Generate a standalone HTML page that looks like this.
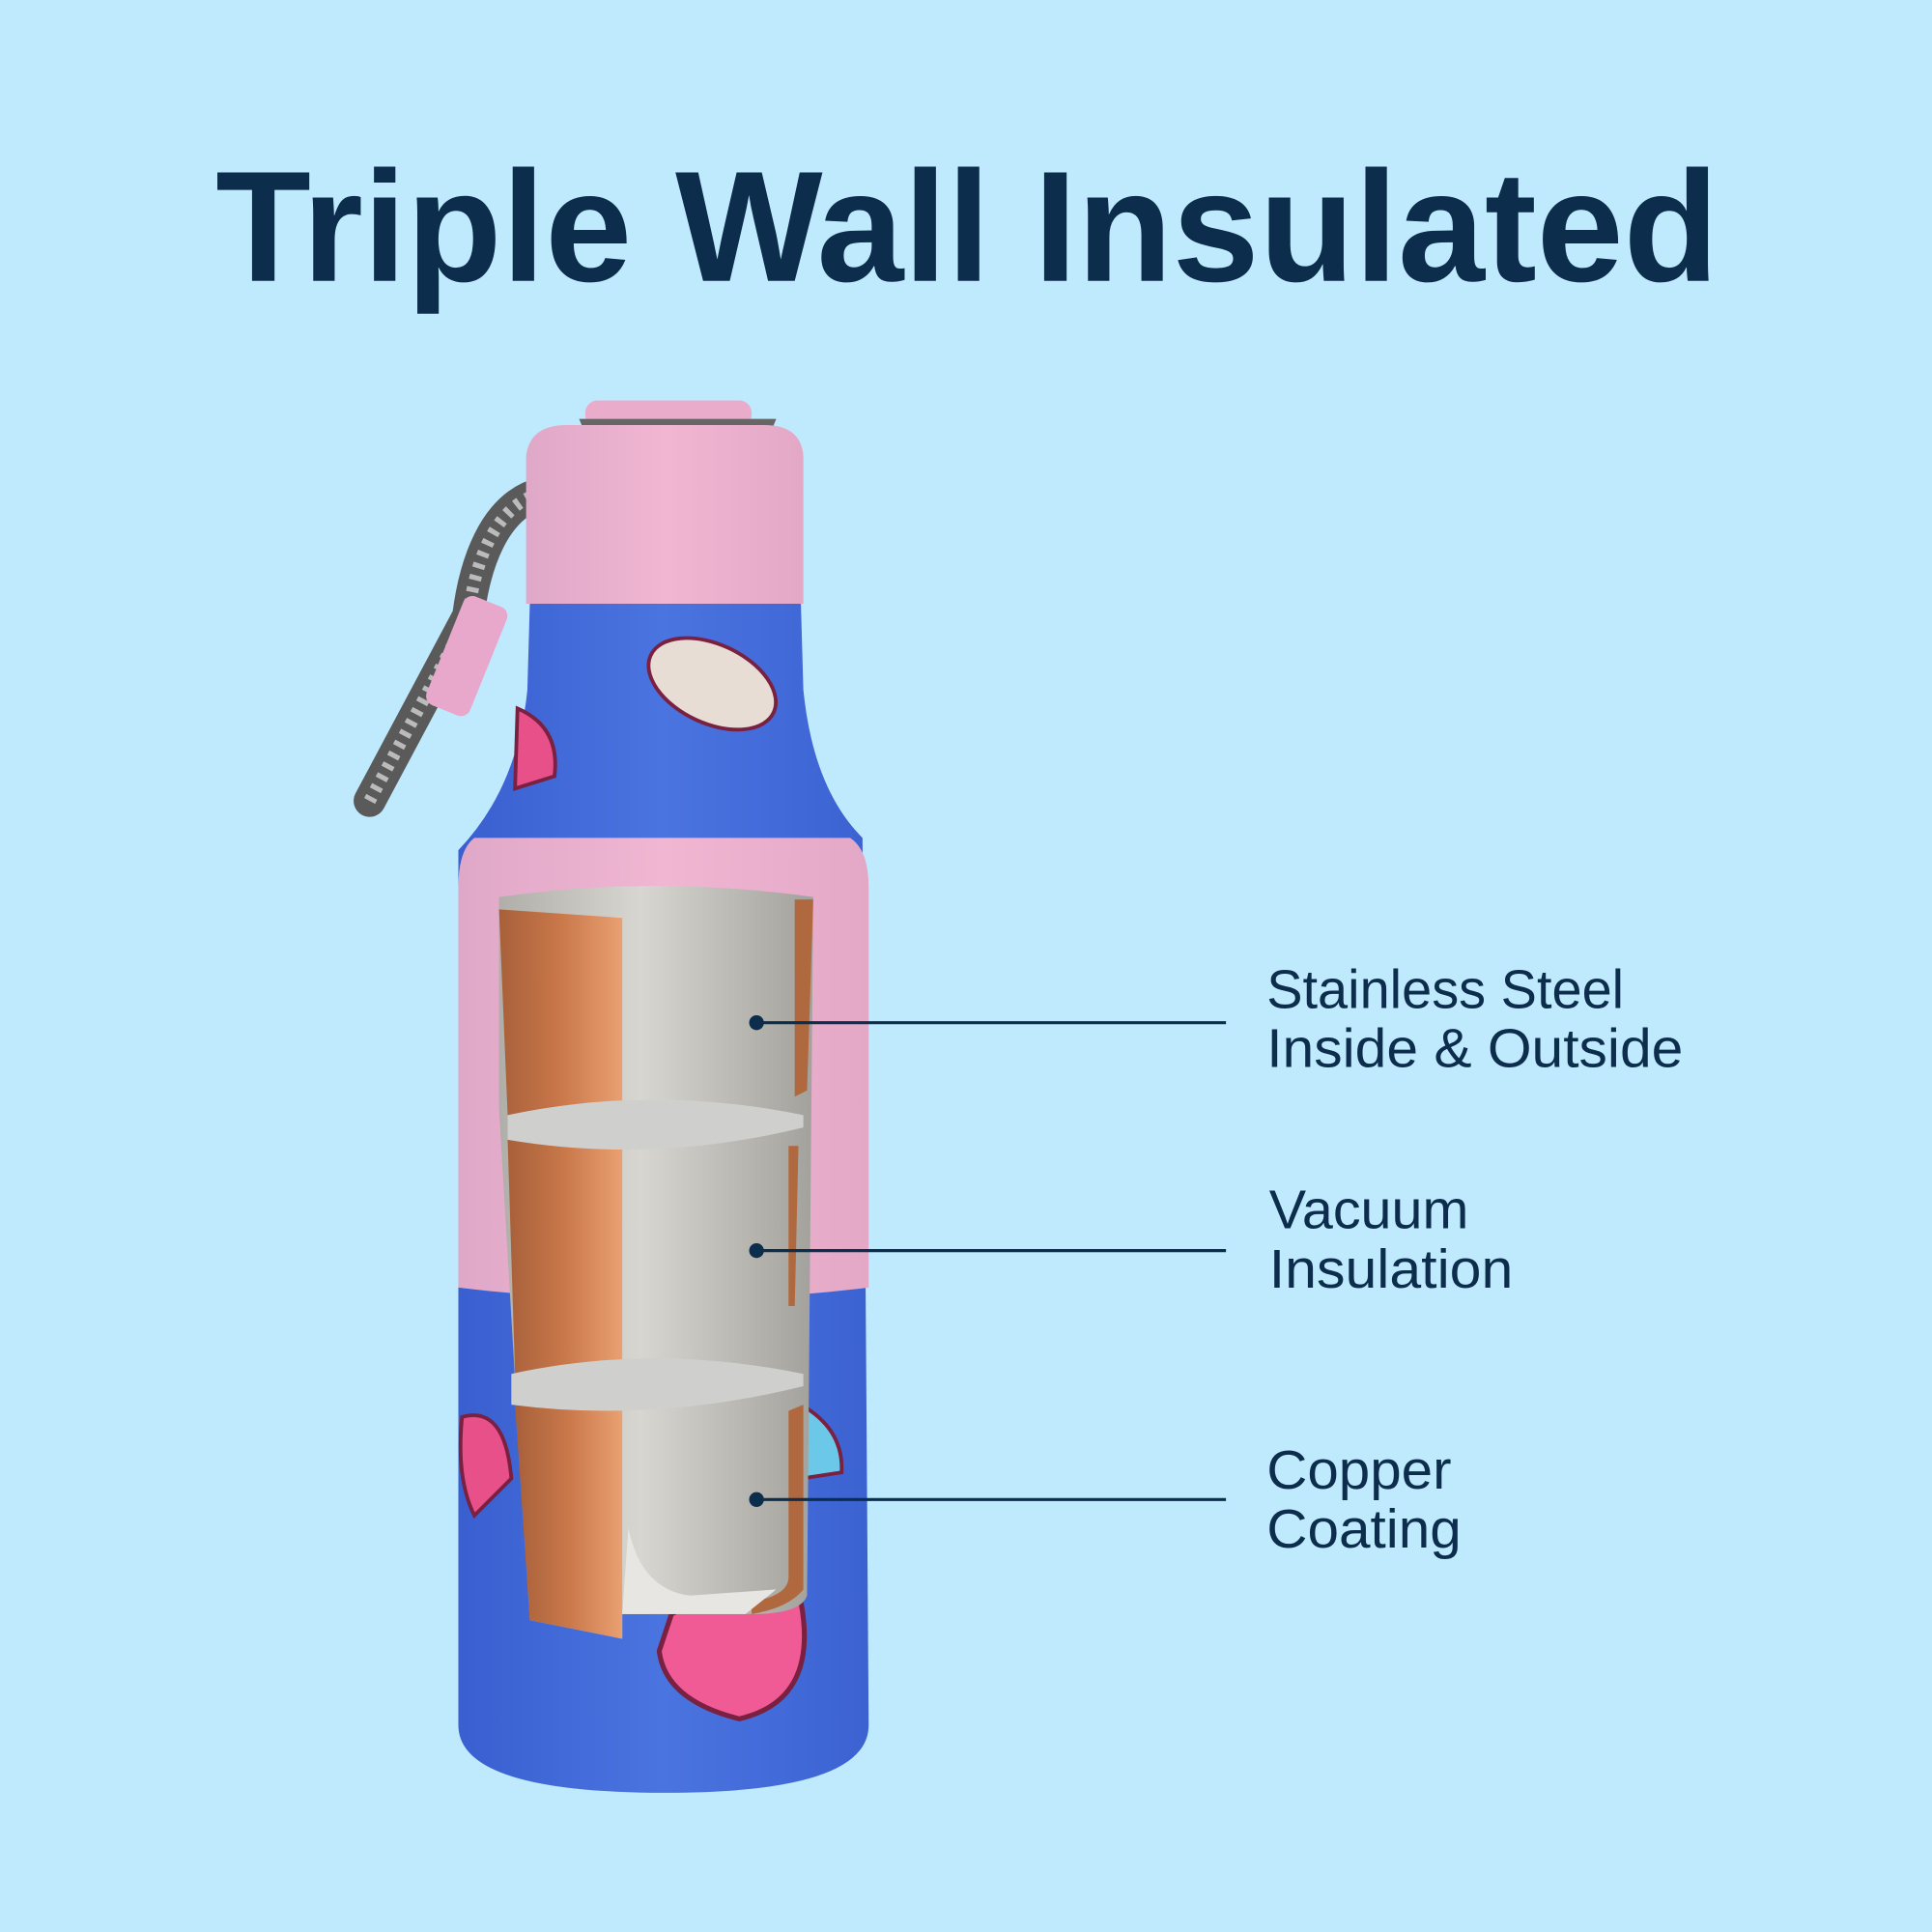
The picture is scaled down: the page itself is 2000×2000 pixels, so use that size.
<!DOCTYPE html>
<html><head><meta charset="utf-8"><style>
html,body{margin:0;padding:0;background:#bfeafd;}
svg{display:block}
</style></head><body>
<svg width="2000" height="2000" viewBox="0 0 1568 1568" xmlns="http://www.w3.org/2000/svg">
<defs>
<linearGradient id="blue" x1="0" x2="1"><stop offset="0" stop-color="#3a5fd0"/><stop offset=".5" stop-color="#4a74e0"/><stop offset="1" stop-color="#3c62d2"/></linearGradient>
<linearGradient id="pink" x1="0" x2="1"><stop offset="0" stop-color="#e0a8c8"/><stop offset=".5" stop-color="#f0b6d2"/><stop offset="1" stop-color="#e2a8c6"/></linearGradient>
<linearGradient id="cop" x1="0" x2="1"><stop offset="0" stop-color="#a8603a"/><stop offset=".5" stop-color="#c9784a"/><stop offset="1" stop-color="#eaa072"/></linearGradient>
<linearGradient id="steel" x1="0" x2="1"><stop offset="0" stop-color="#b0aea8"/><stop offset=".45" stop-color="#d8d6d0"/><stop offset="1" stop-color="#a3a19c"/></linearGradient>
</defs>
<rect width="1568" height="1568" fill="#bfeafd"/>
<text x="175" y="228" font-family="Liberation Sans, sans-serif" font-weight="bold" font-size="128" fill="#0d2d4d" textLength="1220" lengthAdjust="spacingAndGlyphs">Triple Wall Insulated</text>

<!-- rope -->
<path d="M440 400 C400 410 385 460 380 500 L300 650" stroke="#5a5a5a" stroke-width="26" fill="none" stroke-linecap="round"/>
<path d="M440 400 C400 410 385 460 380 500 L300 650" stroke="#bbb" stroke-width="10" stroke-dasharray="4 6" fill="none"/>
<rect x="360" y="485" width="38" height="95" rx="8" fill="#e8a8cc" transform="rotate(22 379 532)"/>
<!-- cap -->
<rect x="475" y="325" width="135" height="22" rx="10" fill="#eaaccb"/>
<path d="M470 340 L630 340 L625 352 L475 352Z" fill="#666"/>
<path d="M427 370 Q430 345 460 345 L620 345 Q650 345 652 370 L652 490 L427 490Z" fill="url(#pink)"/>
<!-- neck/body -->
<path d="M430 490 L650 490 L652 560 Q660 640 700 680 L705 1400 Q705 1455 540 1455 Q372 1455 372 1400 L372 690 Q420 640 428 560Z" fill="url(#blue)"/>
<!-- stickers -->
<ellipse cx="578" cy="555" rx="55" ry="32" fill="#e8ddd5" stroke="#7a2040" stroke-width="3" transform="rotate(25 578 555)"/>
<path d="M420 575 Q455 590 450 630 L418 640Z" fill="#e8508a" stroke="#7a2040" stroke-width="3"/>
<path d="M375 1150 Q410 1140 415 1200 L385 1230 Q370 1200 375 1150Z" fill="#e8508a" stroke="#7a2040" stroke-width="3"/>
<path d="M545 1310 Q600 1280 650 1300 Q665 1380 600 1395 Q540 1380 535 1340Z" fill="#f05a95" stroke="#7a2040" stroke-width="4"/>
<path d="M650 1140 Q685 1160 683 1195 L650 1200Z" fill="#6cc8e8" stroke="#7a2040" stroke-width="3"/>
<!-- sleeve -->
<path d="M385 680 L690 680 Q705 690 705 720 L705 1045 Q540 1065 372 1045 L372 720 Q372 690 385 680Z" fill="url(#pink)"/>
<!-- cutaway -->
<path d="M405 728 Q530 710 660 728 L655 1295 Q650 1310 610 1310 L505 1310 L505 1330 L430 1315 L418 1120 L405 900Z" fill="url(#steel)"/>
<path d="M405 738 L505 745 L505 912 L412 905Z" fill="url(#cop)"/>
<path d="M412 925 L505 930 L505 1120 L418 1115Z" fill="url(#cop)"/>
<path d="M418 1140 L505 1145 L505 1330 L430 1315Z" fill="url(#cop)"/>
<path d="M645 730 L660 730 L655 885 L645 890Z" fill="#b0683e"/>
<path d="M640 930 L648 930 L645 1060 L640 1060Z" fill="#b0683e"/>
<path d="M640 1145 L652 1140 L652 1290 Q640 1305 610 1310 L610 1300 Q640 1295 640 1280Z" fill="#b0683e"/>
<path d="M412 905 Q530 880 652 905 L652 915 Q530 945 412 925Z" fill="#cfcfcd"/>
<path d="M415 1115 Q530 1090 652 1115 L652 1125 Q530 1155 415 1140Z" fill="#cfcfcd"/>
<path d="M510 1240 Q520 1290 560 1295 L630 1290 L605 1310 L505 1310Z" fill="#e8e6e2"/>

<!-- leaders -->
<g stroke="#0d2d4d" stroke-width="2.5" fill="#0d2d4d">
<line x1="614" y1="830" x2="995" y2="830"/><circle cx="614" cy="830" r="6" stroke="none"/>
<line x1="614" y1="1015" x2="995" y2="1015"/><circle cx="614" cy="1015" r="6" stroke="none"/>
<line x1="614" y1="1217" x2="995" y2="1217"/><circle cx="614" cy="1217" r="6" stroke="none"/>
</g>
<g font-family="Liberation Sans, sans-serif" font-size="44" fill="#0d2d4d">
<text x="1028" y="818" textLength="290" lengthAdjust="spacingAndGlyphs">Stainless Steel</text>
<text x="1028" y="866" textLength="338" lengthAdjust="spacingAndGlyphs">Inside &amp; Outside</text>
<text x="1030" y="997" textLength="162" lengthAdjust="spacingAndGlyphs">Vacuum</text>
<text x="1030" y="1045" textLength="198" lengthAdjust="spacingAndGlyphs">Insulation</text>
<text x="1028" y="1208" textLength="150" lengthAdjust="spacingAndGlyphs">Copper</text>
<text x="1028" y="1256" textLength="158" lengthAdjust="spacingAndGlyphs">Coating</text>
</g>
</svg>
</body></html>
